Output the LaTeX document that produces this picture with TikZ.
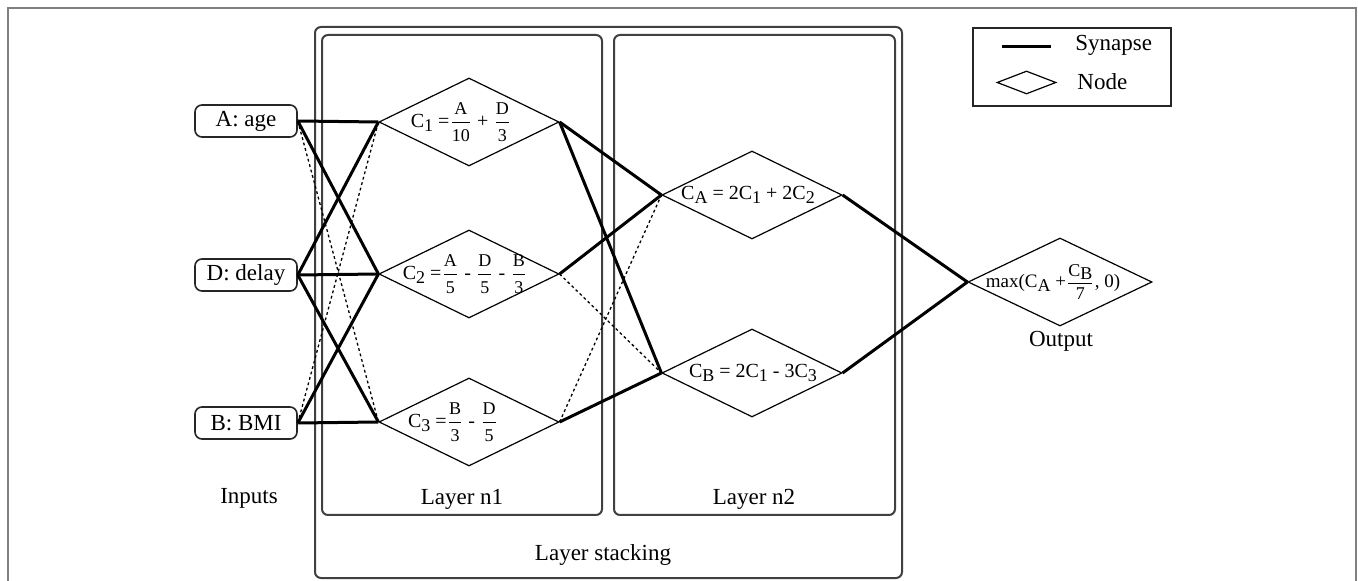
\documentclass[tikz,border=0pt]{standalone}
\usepackage{amsmath}
\usepackage{fontspec}
\setmainfont{Liberation Serif}
\usetikzlibrary{shapes.geometric}
\newcommand\lo[1]{\raisebox{-0.45ex}{\small #1}}
\newcommand\fr[2]{$\dfrac{\text{\small #1}}{\text{\small #2}}$}
\begin{document}
\begin{tikzpicture}[x=0.5pt,y=-0.5pt,
  lbl/.style={font=\fontsize{11.5}{13}\selectfont, inner sep=0},
  dia/.style={draw, shape=diamond, inner sep=0, minimum width=90pt, minimum height=44pt, line width=0.6pt},
  dtxt/.style={font=\fontsize{10}{12}\selectfont, inner sep=0},
  inbox/.style={draw=black!85, rounded corners=3.5pt, line width=0.8pt, minimum width=51pt, minimum height=16pt, inner sep=0, font=\fontsize{11.5}{13}\selectfont},
  layerbox/.style={draw=black!75, rounded corners=3pt, line width=1pt, inner sep=0},
  syn/.style={line width=1.5pt},
  weak/.style={line width=0.65pt, dash pattern=on 1.4pt off 1.4pt},
]
\useasboundingbox (0,0) rectangle (1358,581);
% outer frame
\draw[black!50, line width=1pt] (8,581) -- (8,8) -- (1356,8) -- (1356,581);

% layer boxes
\node[layerbox, minimum width=293.5pt, minimum height=275.5pt] (stack) at (608.5,302.5) {};
\node[layerbox, minimum width=140pt, minimum height=240pt] (n1) at (462,275) {};
\node[layerbox, minimum width=140.5pt, minimum height=240pt] (n2) at (754.5,275) {};

% labels
\node[lbl] (lin) at (249,498) {Inputs};
\node[lbl] (ln1) at (462,499) {Layer n1};
\node[lbl] (ln2) at (754,499) {Layer n2};
\node[lbl] (lst) at (603,555) {Layer stacking};
\node[lbl] (lout) at (1061,341) {Output};

% inputs
\node[inbox] (A) at (246,121) {A: age};
\node[inbox] (D) at (246,275) {D: delay};
\node[inbox] (B) at (246,423) {B: BMI};

% layer 1
\node[dia] (c1) at (469,122) {};
\node[dia] (c2) at (469,274) {};
\node[dia] (c3) at (469,422) {};
\node[dtxt] (c1t) at (461,122) {C\lo{1} =\fr{A}{10} + \fr{D}{3}};
\node[dtxt] (c2t) at (465,274) {C\lo{2} =\fr{A}{5} - \fr{D}{5} - \fr{B}{3}};
\node[dtxt] (c3t) at (453,422) {C\lo{3} =\fr{B}{3} - \fr{D}{5}};

% layer 2
\node[dia] (ca) at (752,195) {};
\node[dia] (cb) at (752,373) {};
\node[dtxt] (cat) at (748,195) {C\lo{A} = 2C\lo{1} + 2C\lo{2}};
\node[dtxt] (cbt) at (753,373) {C\lo{B} = 2C\lo{1} - 3C\lo{3}};

% output
\node[dia, minimum width=92pt] (out) at (1060,282) {};
\node[dtxt, font=\fontsize{9.5}{11}\selectfont] (outt) at (1053,282) {max(C\lo{A} +\fr{C\lo{B}}{7}, 0)};

% connectors: inputs -> layer 1
\draw[weak] (A.east) -- (c3.west);
\draw[weak] (B.east) -- (c1.west);
\draw[syn] (A.east) -- (c1.west);
\draw[syn] (A.east) -- (c2.west);
\draw[syn] (D.east) -- (c1.west);
\draw[syn] (D.east) -- (c2.west);
\draw[syn] (D.east) -- (c3.west);
\draw[syn] (B.east) -- (c2.west);
\draw[syn] (B.east) -- (c3.west);

% layer 1 -> layer 2
\draw[weak] (c2.east) -- (cb.west);
\draw[weak] (c3.east) -- (ca.west);
\draw[syn] (c1.east) -- (ca.west);
\draw[syn] (c1.east) -- (cb.west);
\draw[syn] (c2.east) -- (ca.west);
\draw[syn] (c3.east) -- (cb.west);

% layer 2 -> output
\draw[syn] (ca.east) -- (out.west);
\draw[syn] (cb.east) -- (out.west);

% legend
\node[draw=black!85, line width=0.8pt, minimum width=99pt, minimum height=39pt, inner sep=0] (leg) at (1072,67) {};
\coordinate (ls1) at (1002,47);
\coordinate (ls2) at (1051,47);
\draw[syn] (ls1) -- (ls2);
\node[lbl, anchor=west] (lsyn) at (1075,45) {Synapse};
\node[draw, shape=diamond, inner sep=0, minimum width=29.5pt, minimum height=11.5pt, line width=0.6pt] (ldia) at (1026.5,82.5) {};
\node[lbl, anchor=west] (lnode) at (1077,82) {Node};
\end{tikzpicture}
\end{document}
